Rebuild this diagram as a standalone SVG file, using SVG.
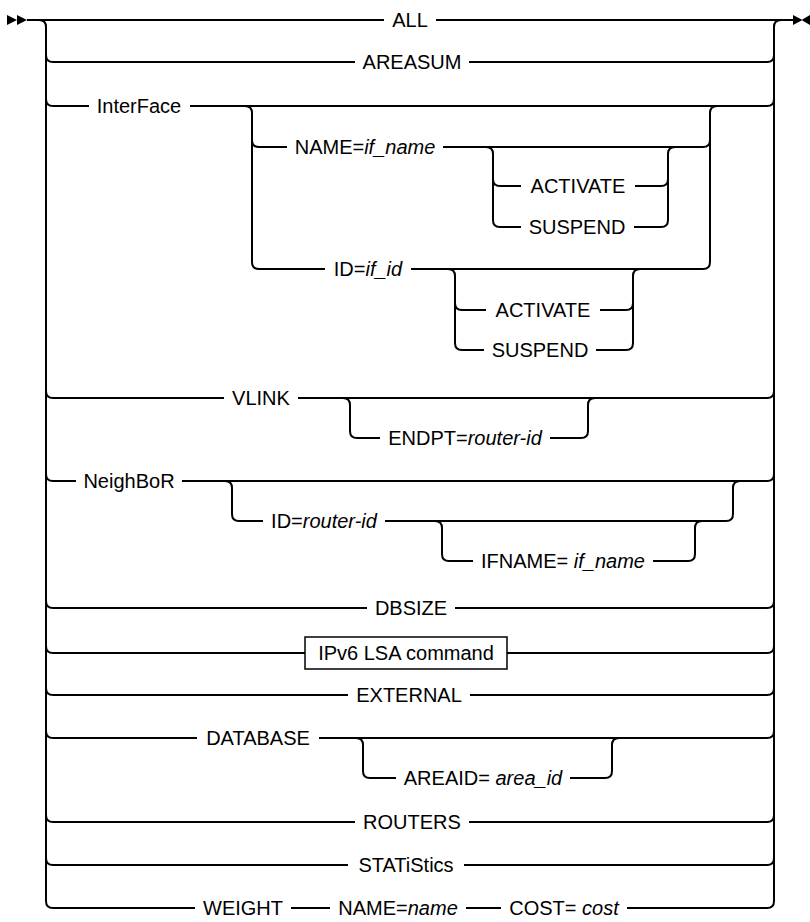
<svg xmlns="http://www.w3.org/2000/svg" width="810" height="922" viewBox="0 0 810 922">
<style>
.l{fill:none;stroke:#000;stroke-width:2;stroke-linecap:butt}
.a{fill:#000;stroke:none}
text{font-family:"Liberation Sans",Arial,sans-serif;font-size:20px;fill:#000;text-anchor:middle}
.i{font-style:italic}
.box{fill:#fff;stroke:#000;stroke-width:1.5}
</style>
<rect width="810" height="922" fill="#fff"/>
<g id="connectors">
<path class="a" d="M7,15 L17,20 L7,25 Z M17,15 L27,20 L17,25 Z M793,15 L802.5,20 L793,25 Z M810,15 L801.5,20 L810,25 Z"/>
<path class="l" d="M39,20 Q46,20 46,27 V901 Q46,908 53,908"/>
<path class="l" d="M781,20 Q774,20 774,27 V901 Q774,908 767,908"/>
<path class="l" d="M27,20 H384 M436,20 H793"/>
<path class="l" d="M46,55 Q46,62 53,62 H355 M469,62 H767 Q774,62 774,55"/>
<path class="l" d="M46,99 Q46,106 53,106 H89 M190,106 H767 Q774,106 774,99"/>
<path class="l" d="M245,106 Q252,106 252,113 V262 Q252,269 259,269 H325 M252,140 Q252,147 259,147 H287"/>
<path class="l" d="M443,147 H703 Q710,147 710,140 M710,113 Q710,106 717,106 M710,113 V262 Q710,269 703,269 M411,269 H703"/>
<path class="l" d="M486,147 Q493,147 493,154 V220 Q493,227 500,227 H521 M493,179 Q493,186 500,186 H521 M635,186 H661 Q668,186 668,179 M634,227 H661 Q668,227 668,220 V154 Q668,147 675,147"/>
<path class="l" d="M448,269 Q455,269 455,276 V343 Q455,350 462,350 H484 M455,303 Q455,310 462,310 H486 M600,310 H626 Q633,310 633,303 M596,350 H626 Q633,350 633,343 V276 Q633,269 640,269"/>
<path class="l" d="M46,391 Q46,398 53,398 H224 M298,398 H767 Q774,398 774,391"/>
<path class="l" d="M343,398 Q350,398 350,405 V431 Q350,438 357,438 H380 M550,438 H581 Q588,438 588,431 V405 Q588,398 595,398"/>
<path class="l" d="M46,474 Q46,481 53,481 H76 M182,481 H767 Q774,481 774,474"/>
<path class="l" d="M225,481 Q232,481 232,488 V514 Q232,521 239,521 H263 M385,521 H726 Q733,521 733,514 V488 Q733,481 740,481"/>
<path class="l" d="M435,521 Q442,521 442,528 V554 Q442,561 449,561 H473 M653,561 H688 Q695,561 695,554 V528 Q695,521 702,521"/>
<path class="l" d="M46,601 Q46,608 53,608 H367 M455,608 H767 Q774,608 774,601"/>
<path class="l" d="M46,646 Q46,653 53,653 H305 M507,653 H767 Q774,653 774,646"/>
<path class="l" d="M46,688 Q46,695 53,695 H348 M470,695 H767 Q774,695 774,688"/>
<path class="l" d="M46,731 Q46,738 53,738 H197 M319,738 H767 Q774,738 774,731"/>
<path class="l" d="M356,738 Q363,738 363,745 V771 Q363,778 370,778 H396 M570,778 H605 Q612,778 612,771 V745 Q612,738 619,738"/>
<path class="l" d="M46,815 Q46,822 53,822 H355 M469,822 H767 Q774,822 774,815"/>
<path class="l" d="M46,858 Q46,865 53,865 H348 M464,865 H767 Q774,865 774,858"/>
<path class="l" d="M53,908 H195 M291,908 H330 M466,908 H501 M627,908 H767"/>
</g>
<g id="n-all"><text x="410" y="27">ALL</text></g>
<g id="n-areasum"><text x="412" y="69">AREASUM</text></g>
<g id="n-interface"><text x="139" y="113">InterFace</text></g>
<g id="n-name"><text x="365" y="154">NAME=<tspan class="i">if_name</tspan></text></g>
<g id="n-activate1"><text x="578" y="193">ACTIVATE</text></g>
<g id="n-suspend1"><text x="577" y="234">SUSPEND</text></g>
<g id="n-id"><text x="368" y="276">ID=<tspan class="i">if_id</tspan></text></g>
<g id="n-activate2"><text x="543" y="317">ACTIVATE</text></g>
<g id="n-suspend2"><text x="540" y="357">SUSPEND</text></g>
<g id="n-vlink"><text x="261" y="405">VLINK</text></g>
<g id="n-endpt"><text x="465" y="445">ENDPT=<tspan class="i">router-id</tspan></text></g>
<g id="n-neighbor"><text x="129" y="488">NeighBoR</text></g>
<g id="n-idrouter"><text x="324" y="528">ID=<tspan class="i">router-id</tspan></text></g>
<g id="n-ifname"><text x="563" y="568">IFNAME= <tspan class="i">if_name</tspan></text></g>
<g id="n-dbsize"><text x="411" y="615">DBSIZE</text></g>
<g id="n-ipv6"><rect class="box" x="305" y="637" width="202" height="32"/><text x="406" y="660">IPv6 LSA command</text></g>
<g id="n-external"><text x="409" y="702">EXTERNAL</text></g>
<g id="n-database"><text x="258" y="745">DATABASE</text></g>
<g id="n-areaid"><text x="483" y="785">AREAID= <tspan class="i">area_id</tspan></text></g>
<g id="n-routers"><text x="412" y="829">ROUTERS</text></g>
<g id="n-statistics"><text x="406" y="872">STATiStics</text></g>
<g id="n-weight"><text x="243" y="915">WEIGHT</text></g>
<g id="n-wname"><text x="398" y="915">NAME=<tspan class="i">name</tspan></text></g>
<g id="n-cost"><text x="564" y="915">COST= <tspan class="i">cost</tspan></text></g>
</svg>
